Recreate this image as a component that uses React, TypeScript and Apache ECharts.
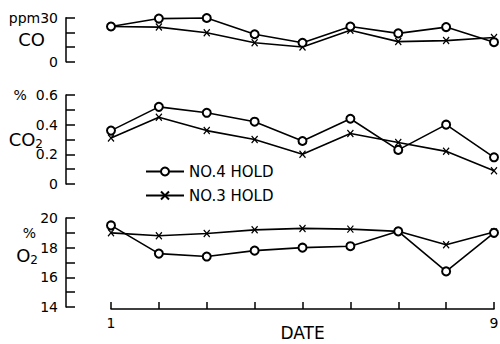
import React, { useEffect, useRef } from 'react';
import * as echarts from 'echarts';

const dates = [1, 2, 3, 4, 5, 6, 7, 8, 9];
const seriesNames = ['NO.4 HOLD', 'NO.3 HOLD'];
const coNo4 = [24, 29.4, 29.8, 18.7, 12.9, 24, 19.3, 23.6, 13.3];
const coNo3 = [24, 23.6, 19.7, 12.9, 10, 21.4, 13.7, 14.4, 16.5];
const co2No4 = [0.36, 0.52, 0.48, 0.42, 0.29, 0.44, 0.23, 0.4, 0.18];
const co2No3 = [0.31, 0.45, 0.36, 0.3, 0.2, 0.34, 0.28, 0.22, 0.09];
const o2No4 = [19.5, 17.6, 17.4, 17.8, 18.0, 18.1, 19.1, 16.4, 19.0];
const o2No3 = [19.0, 18.8, 18.95, 19.2, 19.3, 19.25, 19.1, 18.2, 19.05];
const xTickLabels = ['1', '9'];
const axisNames = ['{o|CO}', '{o|CO}{s|2}', '{p|%}\n{o|O}{s|2}'];

const FONT = 'DejaVu Sans';
const X_SYMBOL = 'path://M0,0L10,12M10,0L0,12';

export default function App() {
  const ref = useRef<HTMLDivElement>(null);
  useEffect(() => {
    if (!ref.current) return;
    const chart = echarts.init(ref.current, undefined, { renderer: 'svg' });
    const pair = (a: number[]) => dates.map((d, i) => [d, a[i]]);

    const nameRich = {
      s: { fontSize: 12, fontFamily: FONT, color: '#000', padding: [9, 0, 0, 0] },
      p: { fontSize: 14, fontFamily: FONT, color: '#000', lineHeight: 24, padding: [0, 2, 0, 0] },
      o: { fontSize: 18, fontFamily: FONT, color: '#000', lineHeight: 22 },
    };

    const yBase = (
      gridIndex: number,
      min: number,
      max: number,
      interval: number,
      fmt: (v: number) => string,
      nameGap: number,
      namePadding: number[],
    ) => ({
      type: 'value',
      gridIndex,
      min,
      max,
      interval,
      offset: 45,
      name: axisNames[gridIndex],
      nameLocation: 'middle',
      nameRotate: 0,
      nameGap,
      nameMoveOverlap: false,
      nameTextStyle: {
        fontSize: 18,
        fontFamily: FONT,
        color: '#000',
        align: 'right',
        padding: namePadding,
        rich: nameRich,
      },
      axisLine: { show: true, lineStyle: { color: '#000', width: 1.5 } },
      axisTick: { show: true, inside: true, length: 9, lineStyle: { color: '#000', width: 1.5 } },
      axisLabel: { color: '#000', fontSize: 14, fontFamily: FONT, margin: 8, formatter: fmt },
      splitLine: { show: false },
    });

    const xBase = (gridIndex: number, show: boolean) => ({
      type: 'value',
      gridIndex,
      min: 1,
      max: 9,
      interval: 1,
      show,
      offset: 2,
      axisLine: { show: true, lineStyle: { color: '#000', width: 1.5 } },
      axisTick: { show: true, inside: true, length: 7, lineStyle: { color: '#000', width: 1.5 } },
      axisLabel: {
        color: '#000',
        fontSize: 14,
        fontFamily: FONT,
        margin: 7,
        showMinLabel: true,
        showMaxLabel: true,
        formatter: (v: number) => (v === 1 ? xTickLabels[0] : v === 9 ? xTickLabels[1] : ''),
      },
      splitLine: { show: false },
      name: show ? 'DATE' : '',
      nameLocation: 'middle',
      nameGap: 15,
      nameMoveOverlap: false,
      nameTextStyle: { color: '#000', fontSize: 17, fontFamily: FONT },
    });

    const mk = (name: string, idx: number, data: number[], circle: boolean) => ({
      type: 'line',
      name,
      xAxisIndex: idx,
      yAxisIndex: idx,
      data: pair(data),
      symbol: circle ? 'emptyCircle' : X_SYMBOL,
      symbolSize: circle ? 8 : [6, 7],
      showAllSymbol: true,
      lineStyle: { color: '#000', width: 1.6 },
      itemStyle: { color: '#000', borderColor: '#000', borderWidth: circle ? 1.4 : 1.3 },
      emphasis: { disabled: true },
      z: circle ? 3 : 2,
    });

    chart.setOption({
      animation: false,
      backgroundColor: '#fff',
      textStyle: { fontFamily: FONT, color: '#000' },
      grid: [
        { left: 111, right: 6, top: 17.7, height: 44, outerBoundsMode: 'none', containLabel: false },
        { left: 111, right: 6, top: 95, height: 89, outerBoundsMode: 'none', containLabel: false },
        { left: 111, right: 6, top: 218, height: 89, outerBoundsMode: 'none', containLabel: false },
      ],
      xAxis: [xBase(0, false), xBase(1, false), xBase(2, true)],
      yAxis: [
        yBase(0, 0, 30, 10, (v) => (v === 30 ? 'ppm30' : v === 0 ? '0' : ''), 21, [0, 0, 0, 0]),
        yBase(
          1,
          0,
          0.6,
          0.1,
          (v) => {
            const r = Math.round(v * 10);
            if (r === 6) return '%  0.6';
            if (r === 4) return '0.4';
            if (r === 2) return '0.2';
            if (r === 0) return '0';
            return '';
          },
          23,
          [0, 0, 0, 0],
        ),
        yBase(2, 14, 20, 1, (v) => (v % 2 === 0 ? String(v) : ''), 28, [0, 0, 38, 0]),
      ],
      legend: {
        data: seriesNames,
        orient: 'vertical',
        left: 140,
        top: 159,
        itemWidth: 38,
        itemHeight: 10,
        itemGap: 9,
        textStyle: { color: '#000', fontSize: 15, fontFamily: FONT },
        selectedMode: false,
      },
      series: [
        mk(seriesNames[0], 0, coNo4, true),
        mk(seriesNames[1], 0, coNo3, false),
        mk(seriesNames[0], 1, co2No4, true),
        mk(seriesNames[1], 1, co2No3, false),
        mk(seriesNames[0], 2, o2No4, true),
        mk(seriesNames[1], 2, o2No3, false),
      ],
    });
    return () => chart.dispose();
  }, []);
  return <div ref={ref} style={{ position: 'fixed', left: 0, top: 0, width: 500, height: 344 }} />;
}
